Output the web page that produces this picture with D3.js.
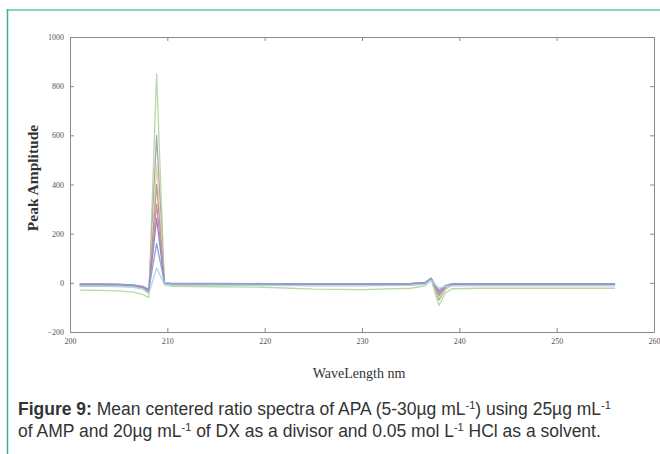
<!DOCTYPE html>
<html>
<head>
<meta charset="utf-8">
<script src="https://cdn.jsdelivr.net/npm/d3@7"></script>
<style>
  body { margin: 0; background: #fff; }
  svg { display: block; }
</style>
</head>
<body>
<div id="chart"></div>
<script>
let wavelength = [201, 203, 205, 206.5, 207.5, 208.1, 208.9, 209.7, 210.5, 215, 220, 225, 230, 235, 236.5, 237.1, 237.9, 238.6, 239.3, 242, 246, 250, 256];

// Mean centered ratio spectra, one per concentration
let specGreen  = [-30, -31, -33, -38, -48, -60, 850, -8, -14, -16, -18, -26, -28, -22, -12, 14, -92, -40, -24, -22, -22, -22, -22];
let specGray   = [-10, -10, -11, -14, -22, -40, 600, -4, -6, -6, -7, -8, -8, -6, -2, 18, -70, -25, -8, -8, -8, -8, -8];
let specYellow = [-12, -12, -13, -16, -24, -42, 480, -5, -8, -8, -9, -10, -10, -8, -4, 14, -60, -22, -10, -10, -10, -10, -10];
let specBrown  = [-6, -6, -7, -10, -18, -34, 400, -2, -4, -4, -5, -5, -5, -4, 0, 20, -52, -18, -5, -5, -5, -5, -5];
let specRed    = [-8, -8, -9, -12, -20, -36, 320, -3, -5, -5, -5, -6, -6, -5, -1, 16, -45, -16, -6, -6, -6, -6, -6];
let specPurple = [-5, -5, -6, -9, -16, -30, 262, -1, -3, -3, -4, -4, -4, -3, 1, 18, -38, -12, -4, -4, -4, -4, -4];
let specBlue   = [-4, -4, -5, -8, -14, -26, 160, 0, -2, -2, -3, -3, -3, -2, 2, 17, -30, -10, -3, -3, -3, -3, -3];
let specCyan   = [-14, -14, -15, -18, -26, -44, 60, -6, -10, -10, -10, -12, -12, -10, -6, 10, -22, -14, -12, -12, -12, -12, -12];

let seriesValues = [specGreen, specGray, specYellow, specBrown, specRed, specPurple, specBlue, specCyan];
let seriesColors = ["#b9d9a6", "#a9a7b4", "#e3dc9c", "#b79f97", "#d08aa2", "#9a86c6", "#8f9fd8", "#a8d8e6"];

let xTicks = [200, 210, 220, 230, 240, 250, 260];
let yTicks = [-200, 0, 200, 400, 600, 800, 1000];

let width = 660;
let height = 454;

let svg = d3.select("#chart")
    .append("svg")
    .attr("width", width)
    .attr("height", height);

// Teal page frame
svg.append("line")
    .attr("x1", 7).attr("x2", width).attr("y1", 10).attr("y2", 10)
    .attr("stroke", "#84d5c8").attr("stroke-width", 2);
svg.append("line")
    .attr("x1", 7.5).attr("x2", 7.5).attr("y1", 9).attr("y2", height)
    .attr("stroke", "#3fae9f").attr("stroke-width", 1.5);

let plot = { left: 70, right: 654, top: 37, bottom: 332 };

let xScale = d3.scaleLinear()
    .domain([200, 260])
    .range([plot.left, plot.right]);

let yScale = d3.scaleLinear()
    .domain([-200, 1000])
    .range([plot.bottom, plot.top]);

svg.append("clipPath").attr("id", "clip")
    .append("rect")
    .attr("x", plot.left).attr("y", plot.top)
    .attr("width", plot.right - plot.left).attr("height", plot.bottom - plot.top);

// Spectra
let line = d3.line()
    .x((d, i) => xScale(wavelength[i]))
    .y(d => yScale(d));

svg.append("g")
    .attr("clip-path", "url(#clip)")
    .selectAll("path")
    .data(seriesValues)
    .enter()
    .append("path")
    .attr("d", line)
    .attr("fill", "none")
    .attr("stroke", (d, i) => seriesColors[i])
    .attr("stroke-width", 1.3)
    .attr("stroke-linejoin", "round");

// Axes, MATLAB style box with inward ticks
let axisColor = "#8a8a8a";
let tickFont = "'Liberation Serif', serif";

let xAxis = d3.axisBottom(xScale).tickValues(xTicks).tickSizeInner(-4).tickSizeOuter(0).tickPadding(6).tickFormat(d3.format("d"));
let yAxis = d3.axisLeft(yScale).tickValues(yTicks).tickSizeInner(-4).tickSizeOuter(0).tickPadding(6).tickFormat(d3.format("d"));
let xTop = d3.axisTop(xScale).tickValues(xTicks).tickSizeInner(-4).tickSizeOuter(0).tickFormat("");
let yRight = d3.axisRight(yScale).tickValues(yTicks).tickSizeInner(-4).tickSizeOuter(0).tickFormat("");

function styleAxis(g) {
    g.select(".domain").attr("stroke", axisColor);
    g.selectAll(".tick line").attr("stroke", axisColor);
    g.selectAll(".tick text")
        .attr("fill", "#555")
        .style("font-family", tickFont)
        .style("font-size", "8px");
}

svg.append("g").attr("transform", `translate(0, ${plot.bottom})`).call(xAxis).call(styleAxis);
svg.append("g").attr("transform", `translate(${plot.left}, 0)`).call(yAxis).call(styleAxis);
svg.append("g").attr("transform", `translate(0, ${plot.top})`).call(xTop).call(styleAxis);
svg.append("g").attr("transform", `translate(${plot.right}, 0)`).call(yRight).call(styleAxis);

// Axis titles
svg.append("text")
    .attr("transform", "translate(38, 178) rotate(-90)")
    .attr("text-anchor", "middle")
    .style("font-family", "'Liberation Serif', serif")
    .style("font-weight", "bold")
    .style("font-size", "15.5px")
    .attr("fill", "#333")
    .text("Peak Amplitude");

svg.append("text")
    .attr("x", 359)
    .attr("y", 378)
    .attr("text-anchor", "middle")
    .style("font-family", "'Liberation Serif', serif")
    .style("font-size", "14px")
    .attr("fill", "#333")
    .text("WaveLength nm");

// Caption
let caption = svg.append("g")
    .style("font-family", "'Liberation Sans', Arial, sans-serif")
    .style("font-size", "17.5px")
    .attr("fill", "#333");

let line1 = caption.append("text").attr("x", 18).attr("y", 415);
line1.append("tspan").style("font-weight", "bold").text("Figure 9:");
line1.append("tspan").text(" Mean centered ratio spectra of APA (5-30µg mL");
line1.append("tspan").attr("dy", -6).style("font-size", "11px").text("-1");
line1.append("tspan").attr("dy", 6).text(") using 25µg mL");
line1.append("tspan").attr("dy", -6).style("font-size", "11px").text("-1");

let line2 = caption.append("text").attr("x", 18).attr("y", 437);
line2.append("tspan").text("of AMP and 20µg mL");
line2.append("tspan").attr("dy", -6).style("font-size", "11px").text("-1");
line2.append("tspan").attr("dy", 6).text(" of DX as a divisor and 0.05 mol L");
line2.append("tspan").attr("dy", -6).style("font-size", "11px").text("-1");
line2.append("tspan").attr("dy", 6).text(" HCl as a solvent.");
</script>
</body>
</html>
